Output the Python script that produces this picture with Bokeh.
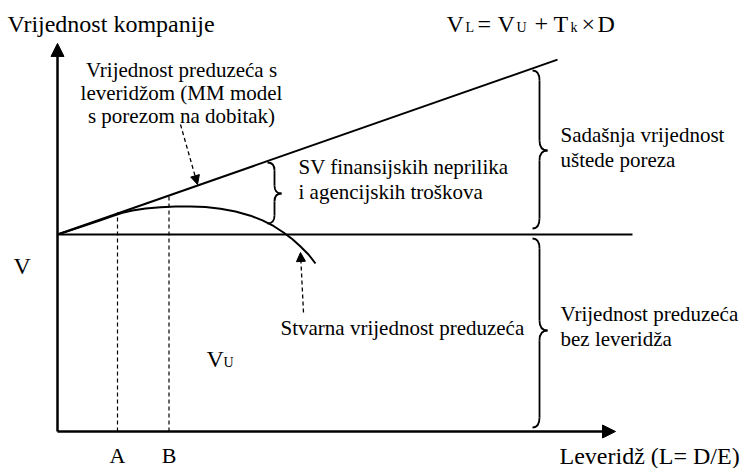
from bokeh.plotting import figure
from bokeh.models import Range1d, Arrow, NormalHead, ColumnDataSource
from bokeh.core.properties import value
from bokeh.embed import file_html
from bokeh.resources import INLINE

# ---------------- data (leverage on x, firm value on y) ----------------
vl_leverage = [0.0, 10.0]            # V_L = V_U + T_k x D (MM with taxes)
vl_value = [4.0, 7.55]

vu_leverage = [0.0, 11.5]            # unlevered value V_U (flat)
vu_value = [4.0, 4.0]

actual_leverage = [0.0, 0.26, 0.56, 0.86, 1.10, 1.30, 1.50, 1.76, 2.06, 2.36, 2.66,
                   2.96, 3.26, 3.56, 3.86, 4.10, 4.32, 4.52, 4.70, 4.86, 5.02, 5.16]
actual_value = [4.0, 4.085, 4.187, 4.286, 4.374, 4.441, 4.487, 4.528, 4.552, 4.567, 4.569,
                4.556, 4.524, 4.467, 4.382, 4.288, 4.173, 4.041, 3.903, 3.756, 3.594, 3.411]

marker_names = ["A", "B"]
marker_leverage = [1.2, 2.23]
marker_top = [4.45, 4.79]

axis_x_end = 11.16
axis_y_end = 7.88

# ---------------- helpers: reference pixel -> data ----------------
def X(px):
    return (px - 57) / 50.0

def Y(py):
    return (431 - py) / 49.25

FONT = "Liberation Serif, DejaVu Serif"
FS = "21px"      # annotation texts
FB = "24px"      # axis titles / formula
FSUB = "14px"    # subscripts

p = figure(width=750, height=468, output_backend="svg", toolbar_location=None,
           x_range=Range1d(X(0), X(750)), y_range=Range1d(Y(468), Y(0)),
           x_axis_type=None, y_axis_type=None, min_border=0)
p.grid.visible = False
p.outline_line_color = None
p.background_fill_color = "white"

# axes with arrows
p.add_layout(Arrow(end=NormalHead(size=13, fill_color="black", line_color="black"),
                   x_start=0, y_start=0, x_end=0, y_end=axis_y_end,
                   line_width=2.5, line_color="black"))
p.add_layout(Arrow(end=NormalHead(size=13, fill_color="black", line_color="black"),
                   x_start=0, y_start=0, x_end=axis_x_end, y_end=0,
                   line_width=2.5, line_color="black"))

# main lines
p.line(vu_leverage, vu_value, line_width=2, color="black")
p.line(vl_leverage, vl_value, line_width=2, color="black")
p.line(actual_leverage, actual_value, line_width=2, color="black")

# dashed verticals A, B
p.segment(x0=marker_leverage, y0=[0, 0], x1=marker_leverage, y1=marker_top,
          line_dash="4 3", line_width=1.2, color="black")

# dashed pointer arrows
p.add_layout(Arrow(end=NormalHead(size=9, fill_color="black", line_color="black"),
                   x_start=X(180), y_start=Y(124), x_end=X(197), y_end=Y(184),
                   line_dash="4 3", line_width=1.3, line_color="black"))
p.add_layout(Arrow(end=NormalHead(size=9, fill_color="black", line_color="black"),
                   x_start=X(303), y_start=Y(312), x_end=X(300), y_end=Y(252),
                   line_dash="4 3", line_width=1.3, line_color="black"))

# curly braces
def brace(xe, yt, yb, ym, s_off, t_off, r):
    xs = xe + s_off
    xt = xe + t_off
    q = dict(x0=[], y0=[], x1=[], y1=[], cx=[], cy=[])
    for (a, b, c, d, e, f) in [(xe, yt, xs, yt + r, xs, yt),
                               (xs, ym - r, xt, ym, xs, ym),
                               (xt, ym, xs, ym + r, xs, ym),
                               (xs, yb - r, xe, yb, xs, yb)]:
        q["x0"].append(X(a)); q["y0"].append(Y(b))
        q["x1"].append(X(c)); q["y1"].append(Y(d))
        q["cx"].append(X(e)); q["cy"].append(Y(f))
    p.quadratic(x0="x0", y0="y0", x1="x1", y1="y1", cx="cx", cy="cy",
                source=ColumnDataSource(q), line_width=1.8, line_color="black")
    p.segment(x0=[X(xs), X(xs)], y0=[Y(yt + r), Y(ym + r)],
              x1=[X(xs), X(xs)], y1=[Y(ym - r), Y(yb - r)],
              line_width=1.8, color="black")

brace(267, 162, 223, 193, 7, 14, 8)
brace(532, 70, 228, 150, 7, 15, 10)
brace(532, 238, 427, 330, 7, 15, 10)

# ---------------- texts ----------------
def txt(px, py, s, align="left", size=FS):
    p.text(x=[X(px)], y=[Y(py)], text=[s], text_font=value(FONT), text_font_size=size,
           text_align=align, text_baseline="alphabetic", text_color="black")

txt(7, 23, "Vrijednost kompanije", size=FB)

# formula V_L = V_U + T_k x D
txt(446, 23, "V", size=FB)
txt(465, 27, "L", size=FSUB)
txt(477, 23, "=", size=FB)
txt(497, 23, "V", size=FB)
txt(516, 27, "U", size=FSUB)
txt(534, 23, "+", size=FB)
txt(553, 23, "T", size=FB)
txt(570, 27, "k", size=FSUB)
txt(581, 23, "×", size=FB)
txt(597, 23, "D", size=FB)

txt(181, 69, "Vrijednost preduzeća s", align="center")
txt(181, 92, "leveridžom (MM model", align="center")
txt(181, 115, "s porezom na dobitak)", align="center")

txt(298, 166, "SV finansijskih neprilika")
txt(298, 191, "i agencijskih troškova")

txt(560, 134, "Sadašnja vrijednost")
txt(560, 159, "uštede poreza")

txt(280, 327, "Stvarna vrijednost preduzeća")

txt(560, 313, "Vrijednost preduzeća")
txt(560, 338, "bez leveridža")

txt(13, 265, "V", size=FB)
txt(206, 358, "V", size=FB)
txt(223, 362, "U", size=FSUB)

for name, lev in zip(marker_names, marker_leverage):
    p.text(x=[lev], y=[Y(455)], text=[name], text_font=value(FONT),
           text_font_size="22px", text_align="center", text_baseline="alphabetic",
           text_color="black")

txt(559, 455, "Leveridž (L= D/E)", size=FB)

open("out.html", "w").write(file_html(p, INLINE))
